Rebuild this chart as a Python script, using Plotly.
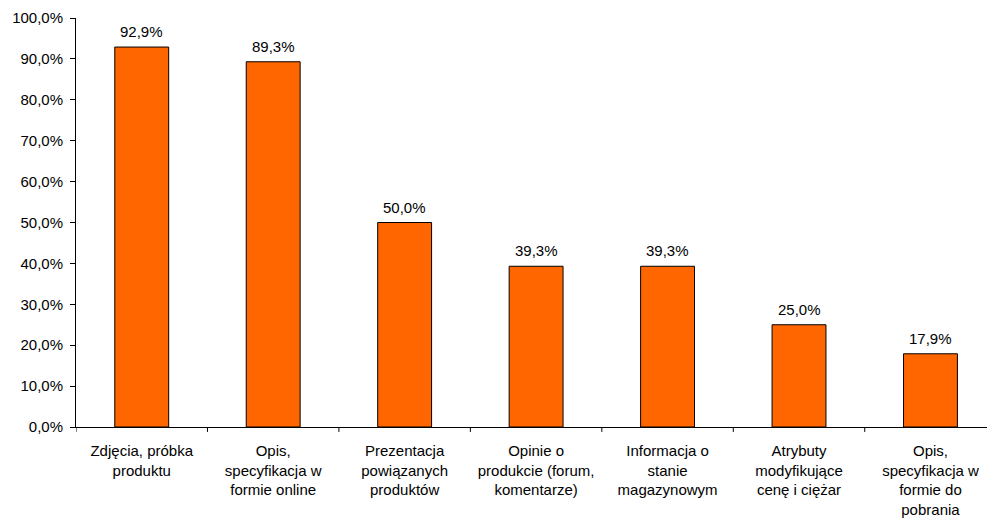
import plotly.graph_objects as go

categories = [
    "Zdjęcia, próbka<br>produktu",
    "Opis,<br>specyfikacja w<br>formie online",
    "Prezentacja<br>powiązanych<br>produktów",
    "Opinie o<br>produkcie (forum,<br>komentarze)",
    "Informacja o<br>stanie<br>magazynowym",
    "Atrybuty<br>modyfikujące<br>cenę i ciężar",
    "Opis,<br>specyfikacja w<br>formie do<br>pobrania",
]
values = [92.9, 89.3, 50.0, 39.3, 39.3, 25.0, 17.9]
y_ticks = [0, 10, 20, 30, 40, 50, 60, 70, 80, 90, 100]

FONT = "Liberation Sans, Arial, sans-serif"

def fmt(v):
    return f"{v:.1f}".replace(".", ",") + "%"

fig = go.Figure(
    go.Bar(
        x=list(range(len(categories))),
        y=values,
        width=0.41,
        marker=dict(color="#FF6600", line=dict(color="#000000", width=1)),
        hoverinfo="skip",
    )
)

# value labels above the bars
for i, v in enumerate(values):
    fig.add_annotation(
        x=i, y=v, text=fmt(v), showarrow=False,
        yanchor="bottom", yshift=5,
        font=dict(family=FONT, size=15, color="#000000"),
    )

fig.update_layout(
    width=987, height=522,
    margin=dict(l=76, r=0, t=18, b=95),
    paper_bgcolor="white", plot_bgcolor="white",
    showlegend=False,
    font=dict(family=FONT, size=15, color="#000000"),
)
fig.update_xaxes(
    tickmode="array",
    tickvals=list(range(len(categories))),
    ticktext=categories,
    range=[-0.5, 6.43],
    showline=True, linecolor="#000000", linewidth=1,
    ticks="", showgrid=False, zeroline=False,
    tickangle=0,
    ticklabelstandoff=10,
)
fig.update_yaxes(
    range=[0, 100],
    tickvals=y_ticks,
    ticktext=[fmt(t) for t in y_ticks],
    showline=True, linecolor="#000000", linewidth=1,
    ticks="outside", ticklen=5, tickcolor="#000000",
    showgrid=False, zeroline=False,
    ticklabelstandoff=4,
)
# boundary ticks on the category axis
for b in range(len(categories) + 1):
    fig.add_shape(
        type="line", xref="x", yref="paper",
        x0=b - 0.5, x1=b - 0.5, y0=0, y1=-0.012,
        line=dict(color="#000000", width=1),
    )

fig.write_html("out.html")
